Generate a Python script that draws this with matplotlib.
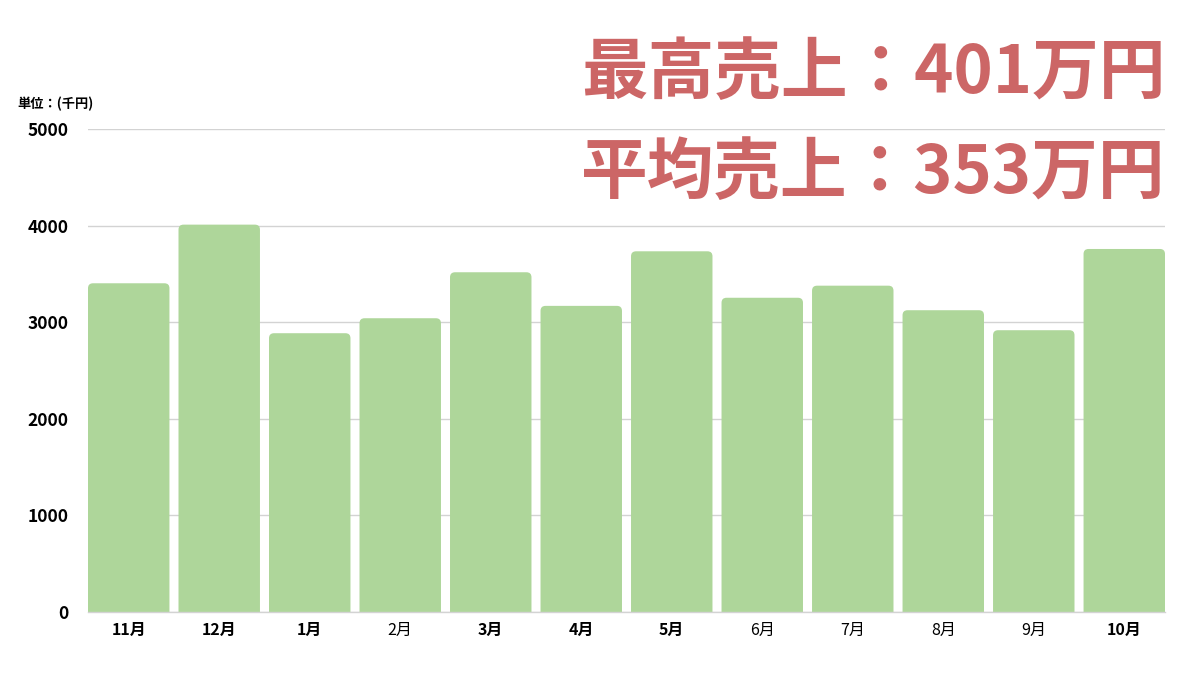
import matplotlib
matplotlib.use("Agg")
import matplotlib.pyplot as plt
from matplotlib.patches import FancyBboxPatch

plt.rcParams['font.family'] = ['Noto Sans CJK JP', 'DejaVu Sans']

months = ["11月", "12月", "1月", "2月", "3月", "4月", "5月", "6月", "7月", "8月", "9月", "10月"]
sales = [3403, 4010, 2886, 3041, 3517, 3169, 3734, 3253, 3378, 3124, 2917, 3758]
label_bold = [True, True, True, False, True, True, True, False, False, False, False, True]
yticks = [0, 1000, 2000, 3000, 4000, 5000]
title_lines = ["最高売上：401万円", "平均売上：353万円"]
unit_label = "単位：(千円)"

bar_color = "#AED69A"
grid_color = "#D3D3D3"
title_color = "#CC6666"

fig = plt.figure(figsize=(12, 6.85), dpi=100)
ax = fig.add_axes([88/1200, 1-612/685, (1165-88)/1200, (612-129)/685])

x = list(range(len(months)))
bars = ax.bar(x, sales, width=0.9, color=bar_color, zorder=2)
ax.set_xlim(-0.45, len(months) - 0.55)
ax.set_ylim(0, 5000)

# rounded top corners: replace each bar with a rounded patch extended below 0 (clipped)
fig.canvas.draw()
px_per_x = ax.bbox.width / (ax.get_xlim()[1] - ax.get_xlim()[0])
px_per_y = ax.bbox.height / (ax.get_ylim()[1] - ax.get_ylim()[0])
r = 5 / px_per_x
for b in bars:
    bx, bw, bh = b.get_x(), b.get_width(), b.get_height()
    b.set_visible(False)
    p = FancyBboxPatch((bx, -200), bw, bh + 200,
                       boxstyle=f"round,pad=0,rounding_size={r}",
                       mutation_aspect=px_per_x / px_per_y,
                       facecolor=bar_color, edgecolor="none", zorder=2,
                       clip_on=True)
    ax.add_patch(p)

ax.set_yticks(yticks)
ax.set_yticklabels([str(v) for v in yticks], fontsize=12.5, fontweight='bold')
ax.set_xticks(x)
ax.set_xticklabels(months, fontsize=11.5)
for lbl, bold in zip(ax.get_xticklabels(), label_bold):
    lbl.set_fontweight('bold' if bold else 'normal')

ax.yaxis.grid(True, color=grid_color, linewidth=1, zorder=0)
ax.tick_params(axis='both', length=0)
ax.tick_params(axis='y', pad=14)
ax.tick_params(axis='x', pad=7)
for s in ["top", "right", "left"]:
    ax.spines[s].set_visible(False)
ax.spines["bottom"].set_color(grid_color)
ax.spines["bottom"].set_linewidth(1)
ax.spines["bottom"].set_zorder(3)

fig.text(17/1200, 1-104/685, unit_label, fontsize=9.5, fontweight='bold',
         ha='left', va='center', color='black')

fig.text(1165/1200, 1-74/685, title_lines[0], fontsize=48, fontweight='bold',
         ha='right', va='center', color=title_color)
fig.text(1165/1200, 1-173/685, title_lines[1], fontsize=48, fontweight='bold',
         ha='right', va='center', color=title_color)

fig.savefig("out.png", dpi=100, facecolor='white')
